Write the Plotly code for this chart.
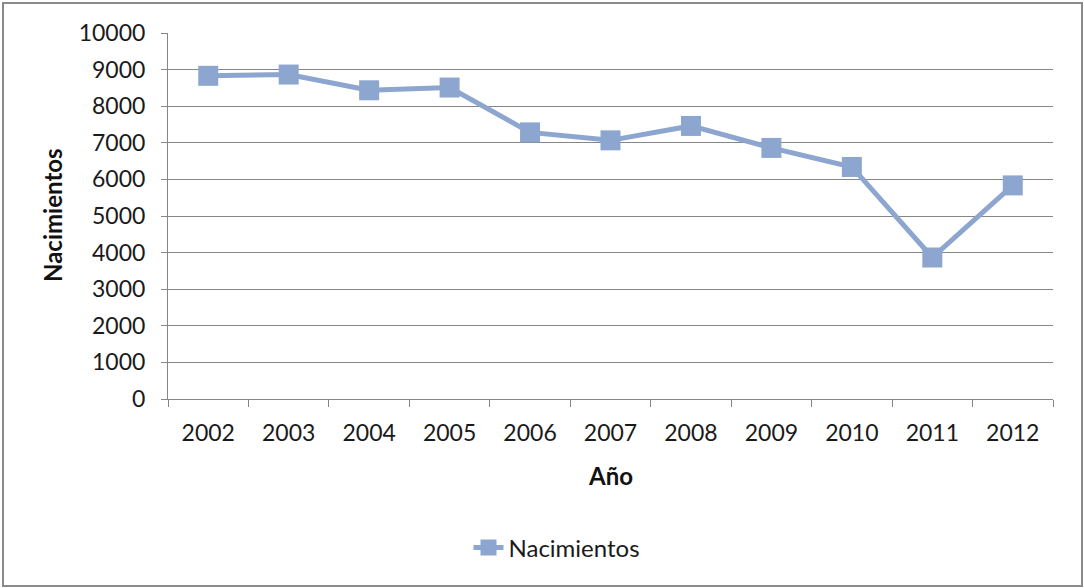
import plotly.graph_objects as go

years = ["2002", "2003", "2004", "2005", "2006", "2007", "2008", "2009", "2010", "2011", "2012"]
nacimientos = [8830, 8865, 8435, 8510, 7285, 7067, 7461, 6860, 6340, 3866, 5836]
y_ticks = [0, 1000, 2000, 3000, 4000, 5000, 6000, 7000, 8000, 9000, 10000]

W, H = 1084, 588
L, R, T, B = 168, 31, 33, 189
pw, ph = W - L - R, H - T - B

def px_to_paper_x(px):
    return (px - L) / pw

def px_to_paper_y(py):
    return (H - B - py) / ph

color = "#8DA6CF"
font_family = "Lato, 'Open Sans', sans-serif"

fig = go.Figure()
fig.add_trace(go.Scatter(
    x=years, y=nacimientos, mode="lines+markers", name="Nacimientos",
    line=dict(color=color, width=5),
    marker=dict(symbol="square", size=20, color=color),
))

fig.update_layout(
    width=W, height=H,
    margin=dict(l=L, r=R, t=T, b=B),
    paper_bgcolor="white", plot_bgcolor="white",
    font=dict(family=font_family, size=23, color="#1a1a1a"),
    showlegend=True,
    legend=dict(
        x=px_to_paper_x(557), y=px_to_paper_y(548), xanchor="center", yanchor="middle",
        font=dict(size=24, color="#1a1a1a"), bgcolor="rgba(0,0,0,0)",
    ),
    xaxis=dict(
        type="category", range=[-0.5, 10.5],
        showline=True, linecolor="#868686", linewidth=1,
        ticks="outside", tickson="boundaries", ticklen=7, tickcolor="#868686",
        showgrid=False, ticklabelstandoff=13,
        tickfont=dict(size=23),
    ),
    yaxis=dict(
        range=[0, 10000], tickvals=y_ticks, ticktext=[str(v) for v in y_ticks],
        showline=True, linecolor="#868686", linewidth=1,
        ticks="outside", ticklen=6, tickcolor="#868686",
        showgrid=True, gridcolor="#868686", gridwidth=1,
        zeroline=False, ticklabelstandoff=11,
        tickfont=dict(size=23),
    ),
    annotations=[
        dict(text="<b>Nacimientos</b>", xref="paper", yref="paper",
             x=px_to_paper_x(52), y=px_to_paper_y(215), textangle=-90,
             showarrow=False, xanchor="center", yanchor="middle",
             font=dict(size=24, color="#111111")),
        dict(text="<b>Año</b>", xref="paper", yref="paper",
             x=px_to_paper_x(610), y=px_to_paper_y(475),
             showarrow=False, xanchor="center", yanchor="middle",
             font=dict(size=24, color="#111111")),
    ],
    shapes=[
        dict(type="rect", xref="paper", yref="paper",
             x0=px_to_paper_x(3), x1=px_to_paper_x(1082),
             y0=px_to_paper_y(586), y1=px_to_paper_y(3),
             line=dict(color="#8A8A8A", width=2), fillcolor="rgba(0,0,0,0)", layer="below"),
    ],
)

fig.write_html(
    "out.html",
    config={"displayModeBar": False},
    post_script="document.body.style.margin='0';document.body.style.overflow='hidden';",
)
